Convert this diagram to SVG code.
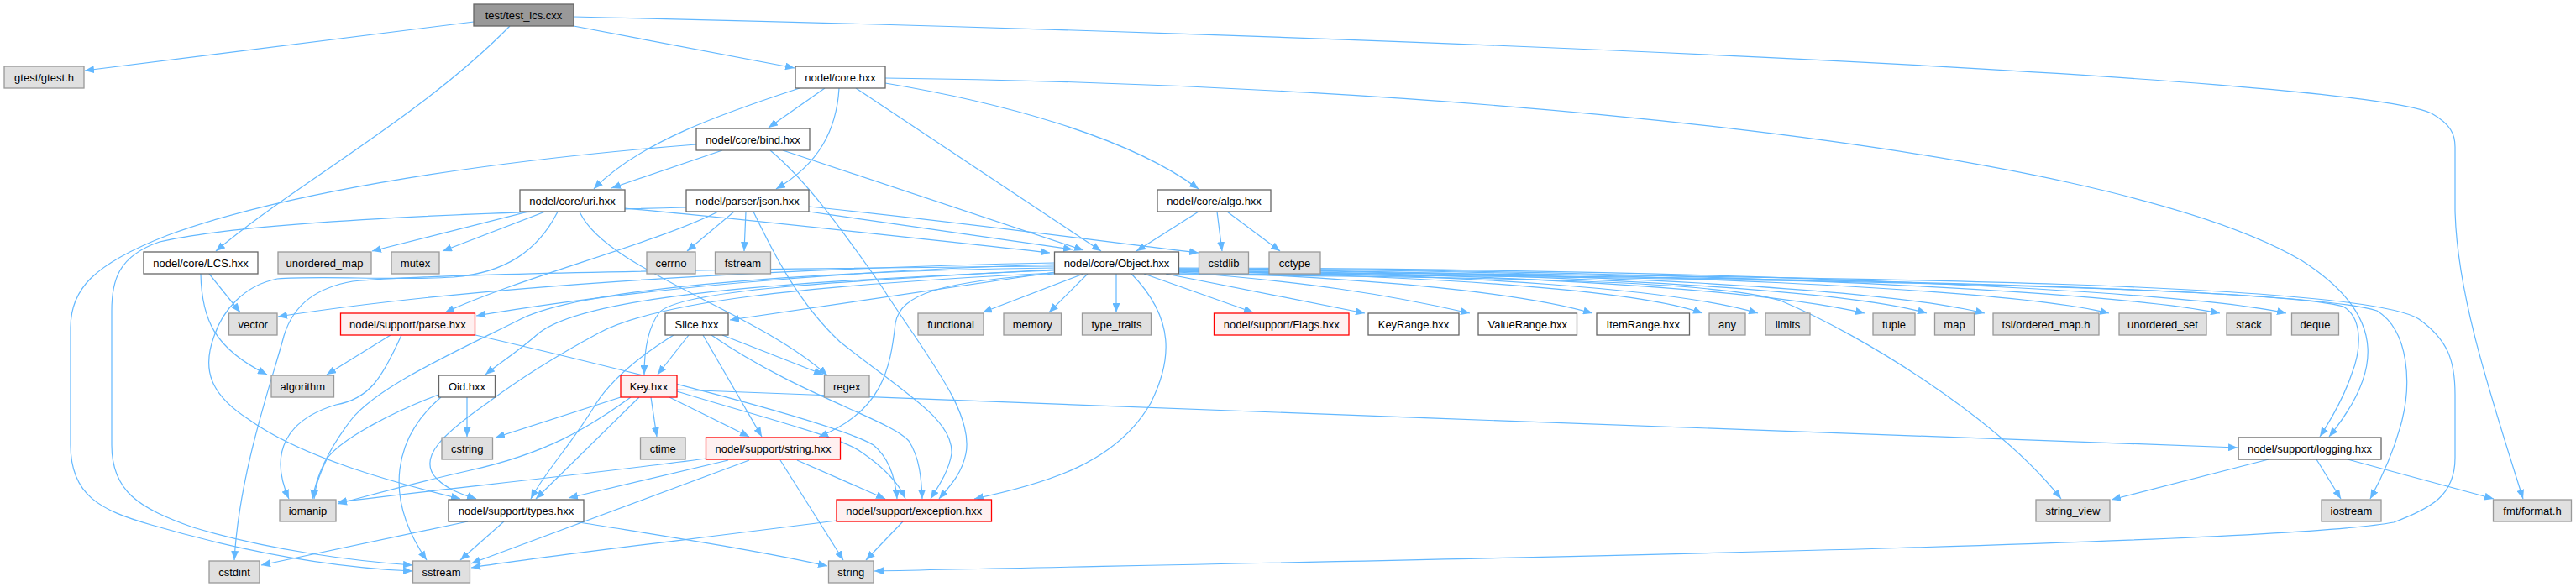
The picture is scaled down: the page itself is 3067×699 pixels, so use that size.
<svg xmlns="http://www.w3.org/2000/svg" width="3067" height="699" viewBox="0 0 3067 699">
<style>
rect{stroke-width:1.3}
.w{fill:#ffffff;stroke:#666666}
.g{fill:#e0e0e0;stroke:#999999}
.r{fill:#fff0f0;stroke:#ff0000}
.root{fill:#999999;stroke:#666666}
text{font-family:'Liberation Sans',Arial,sans-serif;font-size:13px;text-anchor:middle;fill:#000000}
#edges path{fill:none;stroke:#63b8ff;stroke-width:1.2;marker-end:url(#a)}
</style>
<defs>
<marker id="a" markerUnits="userSpaceOnUse" markerWidth="12" markerHeight="9" refX="11" refY="4.5" orient="auto" viewBox="0 0 12 9"><path d="M0,0 L11,4.5 L0,9 z" fill="#63b8ff" stroke="none"/></marker>
</defs>
<rect width="3067" height="699" fill="#ffffff"/>
<g id="edges">
<path d="M564,26 L101,84"/>
<path d="M683,31 L946,81"/>
<path d="M607,31 C500,140 350,220 257,299"/>
<path d="M683,20 C1600,40 2800,90 2895,135 C2918,148 2923,160 2923,175 L2923,250 C2925,350 2965,470 3004,594"/>
<path d="M952,105 C860,135 760,170 707,225"/>
<path d="M860,179 L728,224"/>
<path d="M982,105 L915,152"/>
<path d="M999,105 C996,155 975,195 924,225"/>
<path d="M1019,105 L1311,299"/>
<path d="M1054,99 C1180,120 1340,160 1427,225"/>
<path d="M1054,93 C1700,100 2500,170 2740,310 C2850,380 2830,450 2773,520"/>
<path d="M932,179 L1290,298"/>
<path d="M917,179 C960,215 1000,270 1049,340 C1100,420 1160,490 1150,540 C1145,565 1130,580 1118,594"/>
<path d="M829,172 C600,190 350,225 200,280 C110,315 84,345 84,390 L84,530 C84,590 120,608 180,625 C300,660 400,676 491,680"/>
<path d="M744,248 C900,262 1100,285 1250,301"/>
<path d="M629,252 L443,299"/>
<path d="M649,252 L527,299"/>
<path d="M690,252 C720,320 900,370 985,447"/>
<path d="M664,252 C640,300 600,325 540,330 C470,334 380,328 330,332 C290,340 265,370 255,400 C240,440 250,470 297,500 C360,545 470,575 548,594"/>
<path d="M874,252 L818,299"/>
<path d="M888,252 L886,299"/>
<path d="M963,246 C1150,265 1330,290 1427,301"/>
<path d="M963,252 L1277,297"/>
<path d="M855,252 C780,290 620,330 530,372"/>
<path d="M817,247 C600,252 300,262 190,288 C140,305 133,335 133,370 L133,530 C133,585 165,605 230,628 C320,655 420,668 491,673"/>
<path d="M897,252 C920,300 950,360 1000,407 C1080,470 1135,500 1133,540 C1130,560 1118,578 1108,594"/>
<path d="M1427,252 L1353,299"/>
<path d="M1449,252 L1455,299"/>
<path d="M1461,252 L1524,299"/>
<path d="M249,326 L286,372"/>
<path d="M239,326 C240,380 255,415 318,446"/>
<path d="M465,399 L389,446"/>
<path d="M478,399 C455,450 440,475 400,482 C340,500 320,540 344,594"/>
<path d="M566,399 C700,430 990,500 1040,530 C1058,545 1066,570 1068,594"/>
<path d="M1255,313 C1000,318 600,335 331,377"/>
<path d="M1255,315 C1000,322 750,345 567,376"/>
<path d="M1256,324 L869,381"/>
<path d="M1255,321 C1000,335 810,345 785,372 C770,392 767,420 767,446"/>
<path d="M1255,322 C900,336 690,355 640,398 C615,420 595,432 578,446"/>
<path d="M1255,319 C1000,322 700,340 620,380 C540,420 450,460 418,500 C395,530 378,560 372,594"/>
<path d="M1255,317 C900,320 520,325 420,335 C380,342 350,360 338,400 C325,450 285,560 279,667"/>
<path d="M1255,325 C950,340 780,360 712,397 C660,425 620,450 580,480 C530,515 495,545 520,570 C535,585 555,590 567,594"/>
<path d="M1256,326 C1120,335 1072,350 1066,385 C1060,440 1050,490 975,520"/>
<path d="M1290,326 L1170,372"/>
<path d="M1295,326 L1249,372"/>
<path d="M1329,326 L1329,372"/>
<path d="M1362,326 L1492,372"/>
<path d="M1388,326 L1625,373"/>
<path d="M1347,326 C1400,380 1395,430 1370,480 C1330,550 1250,575 1160,594"/>
<path d="M1404,324 C1550,335 1650,350 1750,373"/>
<path d="M1404,323 C1600,330 1800,345 1896,373"/>
<path d="M1404,323 C1700,328 1950,345 2027,373"/>
<path d="M1404,322 C1750,326 2000,345 2093,373"/>
<path d="M1404,322 C1800,325 2100,345 2220,373"/>
<path d="M1404,321 C1850,324 2200,345 2294,373"/>
<path d="M1404,321 C1900,323 2250,345 2363,373"/>
<path d="M1404,320 C1950,322 2400,345 2511,373"/>
<path d="M1404,320 C2000,321 2500,345 2643,373"/>
<path d="M1404,319 C2050,320 2600,345 2722,373"/>
<path d="M1404,326 C2000,330 2700,340 2790,365 C2815,380 2810,420 2800,445 C2790,475 2775,500 2762,520"/>
<path d="M1404,326 C2200,328 2750,345 2830,370 C2870,395 2870,460 2860,500 C2850,540 2835,570 2822,594"/>
<path d="M1404,324 C2300,328 2820,340 2880,380 C2915,405 2923,430 2923,470 L2923,545 C2923,590 2895,605 2850,622 C2700,650 1600,668 1041,680"/>
<path d="M1404,327 C1800,330 2050,335 2120,358 C2220,400 2380,500 2454,594"/>
<path d="M820,399 L783,446"/>
<path d="M860,399 L980,446"/>
<path d="M837,399 L907,520"/>
<path d="M847,399 C950,470 1060,500 1082,525 C1095,545 1097,570 1098,594"/>
<path d="M802,399 C760,425 730,450 710,480 C680,530 650,560 632,594"/>
<path d="M739,473 L590,521"/>
<path d="M751,473 C700,510 650,540 560,560 C480,578 440,590 402,600"/>
<path d="M761,473 L638,594"/>
<path d="M775,473 L782,520"/>
<path d="M797,473 L892,520"/>
<path d="M806,466 C900,495 1000,520 1025,538 C1050,555 1070,575 1078,594"/>
<path d="M806,464 C1300,480 2200,520 2664,533"/>
<path d="M841,546 C700,565 500,585 402,598"/>
<path d="M867,548 L677,593"/>
<path d="M892,548 L561,671"/>
<path d="M929,548 L1004,667"/>
<path d="M949,548 L1054,594"/>
<path d="M557,621 L311,673"/>
<path d="M600,621 L548,667"/>
<path d="M684,621 C800,640 900,655 985,674"/>
<path d="M996,620 C800,645 650,662 561,676"/>
<path d="M1075,621 L1031,667"/>
<path d="M556,473 L556,520"/>
<path d="M522,470 C470,490 410,520 390,545 C380,565 375,580 374,594"/>
<path d="M525,473 C470,520 455,590 508,667"/>
<path d="M2701,547 L2514,595"/>
<path d="M2758,547 L2787,594"/>
<path d="M2795,547 L2969,594"/>
</g>
<g id="n-test"><rect class="root" x="564" y="5" width="119" height="26"/><text x="623.5" y="22.5">test/test_lcs.cxx</text></g>
<g id="n-gtest"><rect class="g" x="5" y="79" width="95" height="26"/><text x="52.5" y="96.5">gtest/gtest.h</text></g>
<g id="n-core"><rect class="w" x="947" y="79" width="107" height="26"/><text x="1000.5" y="96.5">nodel/core.hxx</text></g>
<g id="n-bind"><rect class="w" x="829" y="153" width="135" height="26"/><text x="896.5" y="170.5">nodel/core/bind.hxx</text></g>
<g id="n-uri"><rect class="w" x="619" y="226" width="125" height="26"/><text x="681.5" y="243.5">nodel/core/uri.hxx</text></g>
<g id="n-json"><rect class="w" x="817" y="226" width="146" height="26"/><text x="890" y="243.5">nodel/parser/json.hxx</text></g>
<g id="n-algo"><rect class="w" x="1378" y="226" width="135" height="26"/><text x="1445.5" y="243.5">nodel/core/algo.hxx</text></g>
<g id="n-lcs"><rect class="w" x="171" y="300" width="136" height="26"/><text x="239" y="317.5">nodel/core/LCS.hxx</text></g>
<g id="n-unordered_map"><rect class="g" x="331" y="300" width="111" height="26"/><text x="386.5" y="317.5">unordered_map</text></g>
<g id="n-mutex"><rect class="g" x="466" y="300" width="57" height="26"/><text x="494.5" y="317.5">mutex</text></g>
<g id="n-cerrno"><rect class="g" x="770" y="300" width="58" height="26"/><text x="799" y="317.5">cerrno</text></g>
<g id="n-fstream"><rect class="g" x="851.5" y="300" width="66" height="26"/><text x="884.5" y="317.5">fstream</text></g>
<g id="n-object"><rect class="w" x="1255.5" y="300" width="148" height="26"/><text x="1329.5" y="317.5">nodel/core/Object.hxx</text></g>
<g id="n-cstdlib"><rect class="g" x="1427.5" y="300" width="59" height="26"/><text x="1457" y="317.5">cstdlib</text></g>
<g id="n-cctype"><rect class="g" x="1511" y="300" width="61" height="26"/><text x="1541.5" y="317.5">cctype</text></g>
<g id="n-vector"><rect class="g" x="272.5" y="373" width="57.5" height="26"/><text x="301.25" y="390.5">vector</text></g>
<g id="n-parse"><rect class="r" x="405.5" y="373" width="160" height="26"/><text x="485.5" y="390.5">nodel/support/parse.hxx</text></g>
<g id="n-slice"><rect class="w" x="792" y="373" width="75" height="26"/><text x="829.5" y="390.5">Slice.hxx</text></g>
<g id="n-functional"><rect class="g" x="1093" y="373" width="78" height="26"/><text x="1132" y="390.5">functional</text></g>
<g id="n-memory"><rect class="g" x="1195" y="373" width="68.5" height="26"/><text x="1229.25" y="390.5">memory</text></g>
<g id="n-type_traits"><rect class="g" x="1288.5" y="373" width="82" height="26"/><text x="1329.5" y="390.5">type_traits</text></g>
<g id="n-flags"><rect class="r" x="1445.5" y="373" width="160.5" height="26"/><text x="1525.75" y="390.5">nodel/support/Flags.hxx</text></g>
<g id="n-keyrange"><rect class="w" x="1629" y="373" width="108" height="26"/><text x="1683" y="390.5">KeyRange.hxx</text></g>
<g id="n-valuerange"><rect class="w" x="1760" y="373" width="117.5" height="26"/><text x="1818.75" y="390.5">ValueRange.hxx</text></g>
<g id="n-itemrange"><rect class="w" x="1901" y="373" width="110.5" height="26"/><text x="1956.25" y="390.5">ItemRange.hxx</text></g>
<g id="n-any"><rect class="g" x="2035" y="373" width="43" height="26"/><text x="2056.5" y="390.5">any</text></g>
<g id="n-limits"><rect class="g" x="2102" y="373" width="53" height="26"/><text x="2128.5" y="390.5">limits</text></g>
<g id="n-tuple"><rect class="g" x="2230" y="373" width="50" height="26"/><text x="2255" y="390.5">tuple</text></g>
<g id="n-map"><rect class="g" x="2303.5" y="373" width="47" height="26"/><text x="2327" y="390.5">map</text></g>
<g id="n-tsl"><rect class="g" x="2373" y="373" width="126" height="26"/><text x="2436" y="390.5">tsl/ordered_map.h</text></g>
<g id="n-unordered_set"><rect class="g" x="2523" y="373" width="104" height="26"/><text x="2575" y="390.5">unordered_set</text></g>
<g id="n-stack"><rect class="g" x="2651" y="373" width="53" height="26"/><text x="2677.5" y="390.5">stack</text></g>
<g id="n-deque"><rect class="g" x="2728.5" y="373" width="56" height="26"/><text x="2756.5" y="390.5">deque</text></g>
<g id="n-algorithm"><rect class="g" x="323" y="447" width="74.5" height="26"/><text x="360.25" y="464.5">algorithm</text></g>
<g id="n-oid"><rect class="w" x="522.5" y="447" width="67" height="26"/><text x="556" y="464.5">Oid.hxx</text></g>
<g id="n-key"><rect class="r" x="739" y="447" width="67" height="26"/><text x="772.5" y="464.5">Key.hxx</text></g>
<g id="n-regex"><rect class="g" x="981.5" y="447" width="53.5" height="26"/><text x="1008.25" y="464.5">regex</text></g>
<g id="n-cstring"><rect class="g" x="526" y="521" width="60.5" height="26"/><text x="556.25" y="538.5">cstring</text></g>
<g id="n-ctime"><rect class="g" x="762.5" y="521" width="53.5" height="26"/><text x="789.25" y="538.5">ctime</text></g>
<g id="n-stringhxx"><rect class="r" x="840.5" y="521" width="160" height="26"/><text x="920.5" y="538.5">nodel/support/string.hxx</text></g>
<g id="n-logging"><rect class="w" x="2665" y="521" width="170" height="26"/><text x="2750" y="538.5">nodel/support/logging.hxx</text></g>
<g id="n-iomanip"><rect class="g" x="333" y="595" width="67" height="26"/><text x="366.5" y="612.5">iomanip</text></g>
<g id="n-types"><rect class="w" x="534" y="595" width="161" height="26"/><text x="614.5" y="612.5">nodel/support/types.hxx</text></g>
<g id="n-exception"><rect class="r" x="996" y="595" width="184.5" height="26"/><text x="1088.25" y="612.5">nodel/support/exception.hxx</text></g>
<g id="n-string_view"><rect class="g" x="2424" y="595" width="88" height="26"/><text x="2468" y="612.5">string_view</text></g>
<g id="n-iostream"><rect class="g" x="2764" y="595" width="71" height="26"/><text x="2799.5" y="612.5">iostream</text></g>
<g id="n-fmt"><rect class="g" x="2968.5" y="595" width="93" height="26"/><text x="3015" y="612.5">fmt/format.h</text></g>
<g id="n-cstdint"><rect class="g" x="249" y="668" width="60" height="26"/><text x="279" y="685.5">cstdint</text></g>
<g id="n-sstream"><rect class="g" x="491.5" y="668" width="68" height="26"/><text x="525.5" y="685.5">sstream</text></g>
<g id="n-string"><rect class="g" x="986.5" y="668" width="53.5" height="26"/><text x="1013.25" y="685.5">string</text></g>
</svg>
